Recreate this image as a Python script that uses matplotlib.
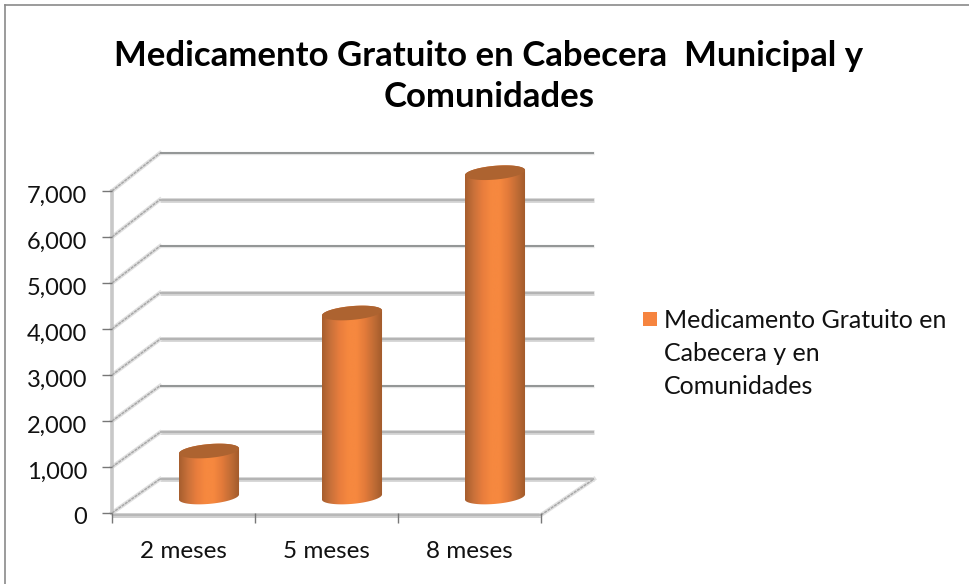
import numpy as np
import matplotlib
matplotlib.use("Agg")
import matplotlib.pyplot as plt
from matplotlib.path import Path
from matplotlib.patches import PathPatch, Rectangle
from matplotlib.lines import Line2D
from matplotlib.transforms import Affine2D
from matplotlib.colors import LinearSegmentedColormap

title = "Medicamento Gratuito en Cabecera  Municipal y\nComunidades"
categories = ["2 meses", "5 meses", "8 meses"]
values = [1000, 4000, 7050]
y_ticks = [0, 1000, 2000, 3000, 4000, 5000, 6000, 7000]
dark_grid = [2000, 5000, 7000]
legend_label = "Medicamento Gratuito en\nCabecera y en\nComunidades"

W, H = 969, 584
plt.rcParams['font.family'] = ['Lato', 'DejaVu Sans']
fig = plt.figure(figsize=(W / 100, H / 100), dpi=100, facecolor='white')

def px_axes(l, t, r, b):
    return fig.add_axes([l / W, 1 - b / H, (r - l) / W, (b - t) / H])

ax = px_axes(112, 191, 541, 513)
ax.set_xlim(0, 3)
ax.set_ylim(0, 7000)
ax.patch.set_alpha(0)
for s in ax.spines.values():
    s.set_visible(False)

# display-space offsets for the pseudo 3D depth
y0_disp = H - 513
back = ax.transData + (Affine2D().translate(-112, -y0_disp).scale(434 / 429, 326 / 322)
                       .translate(160, y0_disp + 34))
mid = ax.transData + Affine2D().translate(25.5, 16)
front_floor = ax.transData + Affine2D().translate(0, -2)

GRID = '#a8a8a8'
DARK = '#8c8f8f'
SOFT = '#e0e0e0'
for v in y_ticks:
    if v in dark_grid:
        ax.plot([0, 3], [v, v], transform=back, color='#e4e4e4', lw=2.4, clip_on=False, zorder=1, solid_capstyle='butt')
        ax.plot([0, 3], [v, v], transform=back, color=DARK, lw=1.3, clip_on=False, zorder=1.1, solid_capstyle='butt')
    else:
        ax.plot([0, 3], [v, v], transform=back, color='#d2d2d2', lw=3.4, clip_on=False, zorder=1, solid_capstyle='butt')
        ax.plot([0, 3], [v, v], transform=back, color='#b4b4b4', lw=1.4, clip_on=False, zorder=1.1, solid_capstyle='butt')
    p0 = ax.transData.transform((0, v))
    p1 = back.transform((0, v))
    ax.plot([p0[0], p1[0]], [p0[1], p1[1]], transform=None, color=SOFT, lw=3, clip_on=False, zorder=1)
    ax.plot([p0[0], p1[0]], [p0[1], p1[1]], transform=None, color=GRID, lw=1.1, ls=(0, (2, 0.6)), clip_on=False, zorder=1.1)

# floor: front edge and right edge
ax.plot([0, 3], [0, 0], transform=front_floor, color='#d0d0d0', lw=3.6, clip_on=False, zorder=1, solid_capstyle='butt')
ax.plot([0, 3], [0, 0], transform=front_floor, color='#b8b8b8', lw=1.4, clip_on=False, zorder=1.1, solid_capstyle='butt')
p0 = front_floor.transform((3, 0)); p1 = back.transform((3, 0))
ax.plot([p0[0], p1[0]], [p0[1], p1[1]], transform=None, color=SOFT, lw=3, clip_on=False, zorder=1)
ax.plot([p0[0], p1[0]], [p0[1], p1[1]], transform=None, color=GRID, lw=1.1, ls=(0, (2, 0.6)), clip_on=False, zorder=1.1)
# vertical axis line
ax.plot([0, 0], [0, 7000], color='#c8c8c8', lw=2.6, clip_on=False, zorder=1)

ax.set_xticks([0, 1, 2, 3])
ax.set_xticklabels([])
ax.set_xticks([0.5, 1.5, 2.5], minor=True)
ax.set_xticklabels(categories, minor=True, fontsize=17.5, color='#111111')
ax.tick_params(axis='x', which='minor', length=0, pad=20.5)
ax.tick_params(axis='x', which='major', length=7, width=1, color='#777777')
ax.set_yticks(y_ticks)
ax.set_yticklabels([f"{v:,}" for v in y_ticks], fontsize=17, color='#111111')
ax.tick_params(axis='y', length=7, width=1, color='#777777', pad=11)
for lab in ax.get_yticklabels():
    lab.set_transform(lab.get_transform() + Affine2D().translate(0, -3))

# cylinders
cmap = LinearSegmentedColormap.from_list('cyl', ['#a65e2e', '#c9713a', '#e87d3d', '#f6883f', '#f6883f', '#e27a3a', '#c06c35', '#a05a2b'])
grad = np.linspace(0, 1, 128).reshape(1, -1)
BAR_W = 0.21
RY = 150
SKEW = 55
t = np.linspace(0, np.pi, 60)

def cap(cx, v):
    tt = np.linspace(0, 2 * np.pi, 120)
    return np.column_stack([cx + BAR_W * np.cos(tt), v + RY * np.sin(tt) + SKEW * np.cos(tt)])

for i, v in enumerate(values):
    cx = i + 0.5
    lower = np.column_stack([cx - BAR_W * np.cos(t), 0 - RY * np.sin(t) - SKEW * np.cos(t)])
    upper = np.column_stack([cx + BAR_W * np.cos(t), v + RY * np.sin(t) + SKEW * np.cos(t)])
    body = np.vstack([lower, upper, lower[:1]])
    im = ax.imshow(grad, cmap=cmap, aspect='auto', origin='lower',
                   extent=(cx - BAR_W, cx + BAR_W, -400, v + 400),
                   transform=mid, zorder=3, interpolation='bilinear')
    im.set_clip_box(fig.bbox)
    im.set_clip_path(Path(body), transform=mid)
    top = PathPatch(Path(cap(cx, v)), transform=mid, facecolor='#ad6330', edgecolor='none', zorder=4, clip_on=False)
    ax.add_patch(top)
ax.set_xlim(0, 3)
ax.set_ylim(0, 7000)

# legend
fig.patches.append(Rectangle((643 / W, 1 - 326 / H), 14 / W, 14 / H, transform=fig.transFigure,
                             facecolor='#f6843f', edgecolor='none'))
fig.text(664 / W, 1 - 353.5 / H, legend_label, fontsize=18, color='#111111', ha='left', va='center',
         linespacing=1.55)

fig.text(489 / W, 1 - 76.5 / H, title, fontsize=25, fontweight='bold', color='black', ha='center', va='center',
         linespacing=1.33)

# chart border: only the top and left edges are visible in the frame
fig.add_artist(Line2D([4.5 / W, 4.5 / W], [0, 1 - 4.5 / H], transform=fig.transFigure, color='#8a8a8a', lw=1.2))
fig.add_artist(Line2D([4.5 / W, 1], [1 - 4.5 / H, 1 - 4.5 / H], transform=fig.transFigure, color='#8a8a8a', lw=1.2))
fig.savefig('out.png', dpi=100)
